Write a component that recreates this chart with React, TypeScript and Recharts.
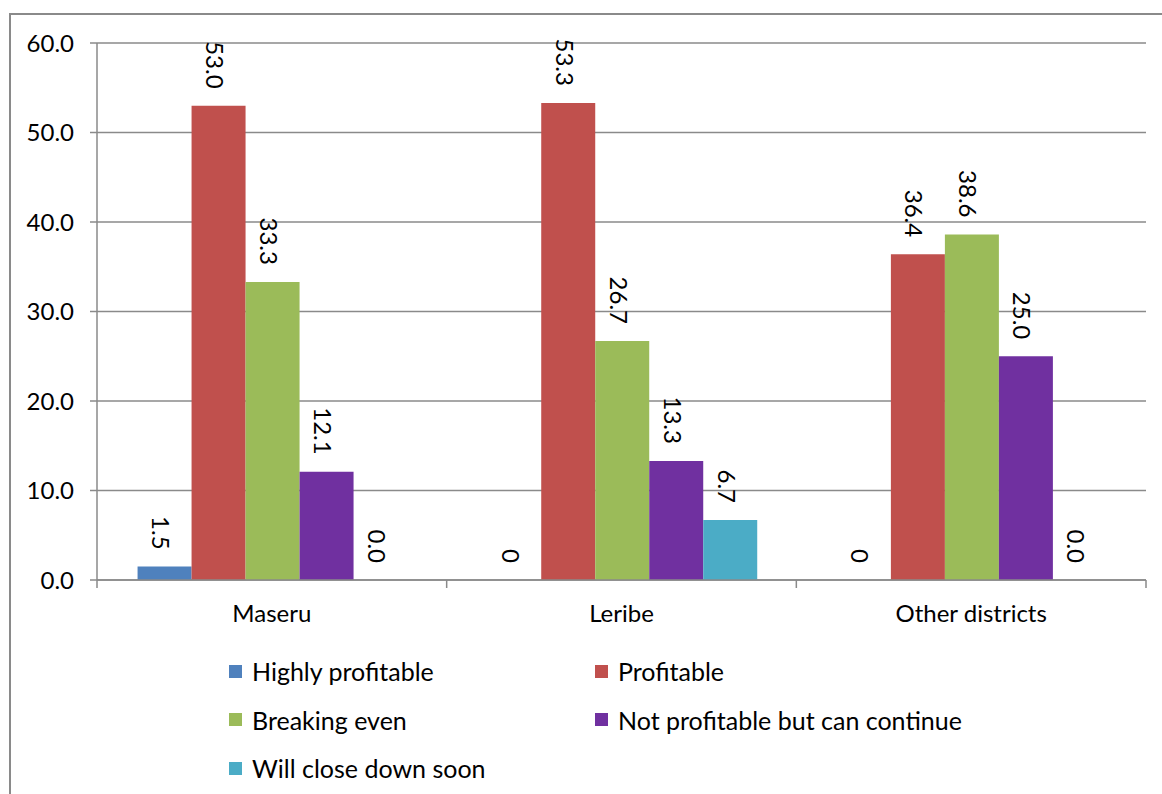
import { Bar, BarChart, CartesianGrid, LabelList, XAxis, YAxis } from "recharts";

const districts = ["Maseru", "Leribe", "Other districts"];
const highlyProfitable = [1.5, 0, 0];
const profitable = [53.0, 53.3, 36.4];
const breakingEven = [33.3, 26.7, 38.6];
const notProfitable = [12.1, 13.3, 25.0];
const closeDown = [0.0, 6.7, 0.0];
// the source shows the empty highly-profitable cells as a bare "0"
const highlyLabels = ["1.5", "0", "0"];
const yTicks = [0, 10, 20, 30, 40, 50, 60];

const series = [
  { key: "highly", name: "Highly profitable", color: "#4F81BD" },
  { key: "profitable", name: "Profitable", color: "#C0504D" },
  { key: "even", name: "Breaking even", color: "#9BBB59" },
  { key: "notProfitable", name: "Not profitable but can continue", color: "#7030A0" },
  { key: "close", name: "Will close down soon", color: "#4BACC6" },
];

const data = districts.map((district, i) => ({
  district,
  highly: highlyProfitable[i],
  highlyLabel: highlyLabels[i],
  profitable: profitable[i],
  profitableLabel: profitable[i].toFixed(1),
  even: breakingEven[i],
  evenLabel: breakingEven[i].toFixed(1),
  notProfitable: notProfitable[i],
  notProfitableLabel: notProfitable[i].toFixed(1),
  close: closeDown[i],
  closeLabel: closeDown[i].toFixed(1),
}));

const FONT = "Lato, 'Noto Sans', sans-serif";
const GRID = "#8a8a8a";

const RotatedLabel = (props: any) => {
  const { x, y, width, value } = props;
  const cx = Number(x) + Number(width) / 2 - 3;
  const ty = Number(y) - 17;
  return (
    <text
      x={cx}
      y={ty}
      transform={`rotate(90 ${cx} ${ty})`}
      textAnchor="end"
      dominantBaseline="central"
      fontSize={24}
      fontFamily={FONT}
      fill="#000"
    >
      {value}
    </text>
  );
};

// category label plus tick marks on the band edges (Excel style)
const DistrictTick = (props: any) => {
  const { x, y, payload, index, width, visibleTicksCount } = props;
  const band = Number(width) / Number(visibleTicksCount || districts.length);
  const left = x - band / 2;
  const right = x + band / 2;
  const axisY = y - 25;
  return (
    <g>
      <line x1={left} x2={left} y1={axisY} y2={axisY + 8} stroke={GRID} strokeWidth={1.5} />
      {index === districts.length - 1 && (
        <line x1={right} x2={right} y1={axisY} y2={axisY + 8} stroke={GRID} strokeWidth={1.5} />
      )}
      <text x={x} y={y} dy="0.71em" textAnchor="middle" fontSize={24} fontFamily={FONT} fill="#000">
        {payload.value}
      </text>
    </g>
  );
};

const legendRows = [
  [series[0], series[1]],
  [series[2], series[3]],
  [series[4]],
];

export default function App() {
  return (
    <div style={{ position: "absolute", left: 0, top: 0, width: 1162, height: 794, background: "#fff", overflow: "hidden" }}>
      <div
        style={{
          position: "absolute",
          left: 9,
          top: 13,
          width: 1200,
          height: 820,
          border: `2px solid ${GRID}`,
          boxSizing: "border-box",
        }}
      />
      <div style={{ position: "absolute", left: 0, top: 0 }}>
        <BarChart
          width={1162}
          height={794}
          data={data}
          margin={{ top: 43, right: 16, left: 0, bottom: 174 }}
          barCategoryGap="11.6%"
          barGap={0}
        >
          <CartesianGrid vertical={false} stroke={GRID} strokeWidth={1.5} />
          <XAxis
            dataKey="district"
            height={40}
            axisLine={{ stroke: GRID, strokeWidth: 1.5 }}
            tickLine={false}
            tickSize={8}
            tickMargin={17}
            tick={DistrictTick}
          />
          <YAxis
            domain={[0, 60]}
            ticks={yTicks}
            width={97}
            axisLine={{ stroke: GRID, strokeWidth: 1.5 }}
            tickLine={{ stroke: GRID, strokeWidth: 1.5 }}
            tickSize={7}
            tickMargin={16}
            tickFormatter={(v: number) => v.toFixed(1)}
            tick={{ fontSize: 24, fill: "#000", fontFamily: FONT }}
          />
          {series.map((s) => (
            <Bar
              key={s.key}
              dataKey={s.key}
              name={s.name}
              fill={s.color}
              minPointSize={0.01}
              isAnimationActive={false}
            >
              <LabelList dataKey={`${s.key}Label`} content={RotatedLabel} />
            </Bar>
          ))}
        </BarChart>
      </div>
      {legendRows.map((row, r) =>
        row.map((s, c) => (
          <div
            key={s.key}
            style={{
              position: "absolute",
              left: c === 0 ? 229 : 595,
              top: 671 + r * 48.5 - 16,
              height: 32,
              display: "flex",
              alignItems: "center",
              fontFamily: FONT,
              fontSize: 25,
              color: "#000",
              whiteSpace: "nowrap",
            }}
          >
            <span style={{ display: "inline-block", width: 13, height: 13, background: s.color, marginRight: 10 }} />
            {s.name}
          </div>
        ))
      )}
    </div>
  );
}
